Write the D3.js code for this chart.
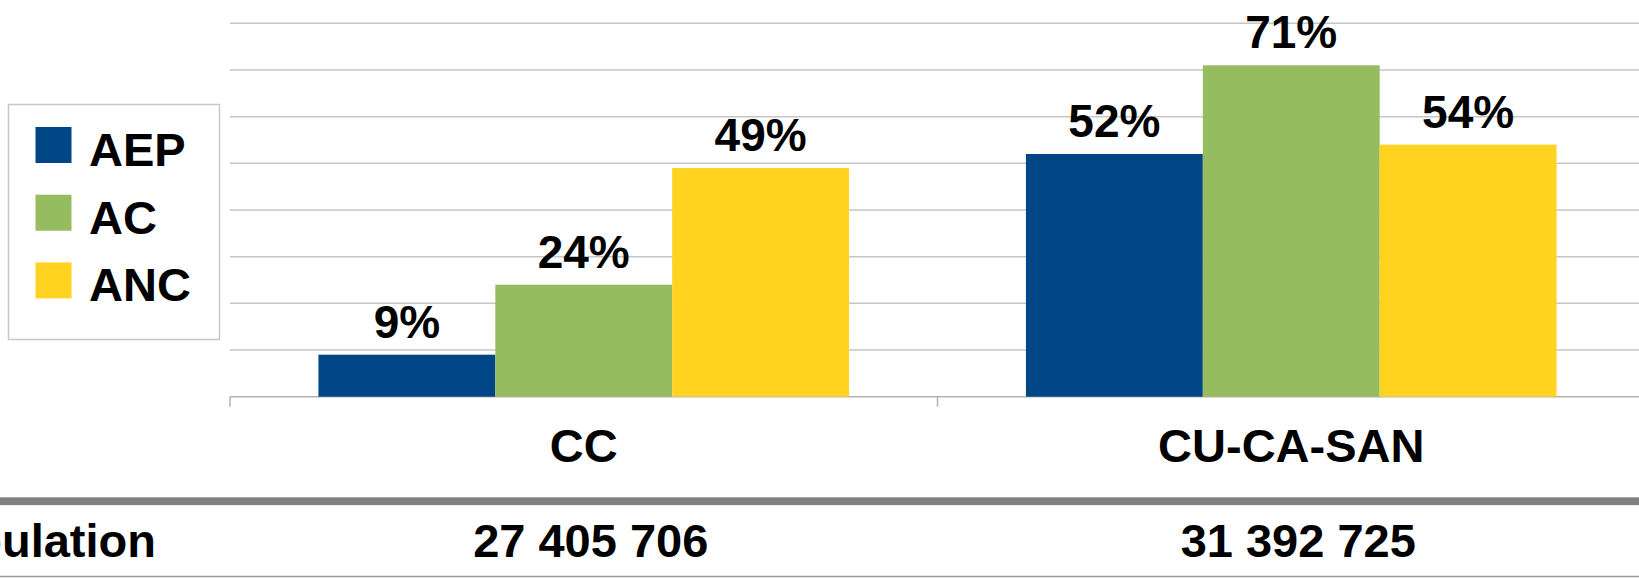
<!DOCTYPE html>
<html>
<head>
<meta charset="utf-8">
<script src="https://cdn.jsdelivr.net/npm/d3@7"></script>
<style>
  body { margin: 0; background: #fff; }
  text { font-family: "Liberation Sans", Arial, sans-serif; font-weight: bold; fill: #000; }
</style>
</head>
<body>
<script>
// data
var categories = ["CC", "CU-CA-SAN"];
var series = ["AEP", "AC", "ANC"];
var colors = ["#004586", "#95bd5f", "#ffd320"];
var aep = [9, 52];
var ac = [24, 71];
var anc = [49, 54];
var yTicks = [10, 20, 30, 40, 50, 60, 70, 80];
var popLabel = "Population";
var population = ["27 405 706", "31 392 725"];

var values = [aep, ac, anc];

var W = 1639, H = 578;
var svg = d3.select("body").append("svg")
    .attr("width", W)
    .attr("height", H);

// scales
var x0 = d3.scaleBand()
    .domain(categories)
    .range([230, 1645])
    .paddingInner(0)
    .paddingOuter(0);

var x1 = d3.scaleBand()
    .domain(series)
    .range([0, x0.bandwidth()])
    .paddingInner(0)
    .paddingOuter(0.5);

var y = d3.scaleLinear()
    .domain([0, 80])
    .range([396.7, 23.3]);

// gridlines
svg.append("g")
    .selectAll("line")
    .data(yTicks)
    .enter()
    .append("line")
    .attr("x1", 230)
    .attr("x2", W)
    .attr("y1", d => y(d))
    .attr("y2", d => y(d))
    .attr("stroke", "#c6c6c6")
    .attr("stroke-width", 1.5);

// x axis baseline + ticks
svg.append("line")
    .attr("x1", 230).attr("x2", W)
    .attr("y1", y(0)).attr("y2", y(0))
    .attr("stroke", "#b3b3b3")
    .attr("stroke-width", 1.5);

svg.append("g")
    .selectAll("line")
    .data(categories)
    .enter()
    .append("line")
    .attr("x1", d => x0(d))
    .attr("x2", d => x0(d))
    .attr("y1", y(0))
    .attr("y2", y(0) + 10)
    .attr("stroke", "#b3b3b3")
    .attr("stroke-width", 1.5);

// bars
var groups = svg.selectAll(".grp")
    .data(categories)
    .enter()
    .append("g")
    .attr("class", "grp")
    .attr("transform", d => "translate(" + x0(d) + ",0)");

groups.selectAll("rect")
    .data((d, i) => series.map((s, j) => ({ s: s, v: values[j][i], c: colors[j] })))
    .enter()
    .append("rect")
    .attr("x", d => x1(d.s))
    .attr("width", x1.bandwidth())
    .attr("y", d => y(d.v))
    .attr("height", d => y(0) - y(d.v))
    .attr("fill", d => d.c);

groups.selectAll(".lbl")
    .data((d, i) => series.map((s, j) => ({ s: s, v: values[j][i] })))
    .enter()
    .append("text")
    .attr("class", "lbl")
    .attr("x", d => x1(d.s) + x1.bandwidth() / 2)
    .attr("y", d => y(d.v) - 17)
    .attr("text-anchor", "middle")
    .style("font-size", "46px")
    .text(d => d.v + "%");

// category labels
svg.append("g")
    .selectAll("text")
    .data(categories)
    .enter()
    .append("text")
    .attr("x", d => x0(d) + x0.bandwidth() / 2)
    .attr("y", 461.5)
    .attr("text-anchor", "middle")
    .style("font-size", "47px")
    .text(d => d);

// legend
var legend = svg.append("g");
legend.append("rect")
    .attr("x", 8.5)
    .attr("y", 104.5)
    .attr("width", 211)
    .attr("height", 235)
    .attr("fill", "#fff")
    .attr("stroke", "#c8c8c8")
    .attr("stroke-width", 1.5);

var li = legend.selectAll(".li")
    .data(series)
    .enter()
    .append("g")
    .attr("class", "li")
    .attr("transform", (d, i) => "translate(0," + (145 + i * 67.7) + ")");

li.append("rect")
    .attr("x", 35.5)
    .attr("y", -18)
    .attr("width", 36)
    .attr("height", 36)
    .attr("fill", (d, i) => colors[i]);

li.append("text")
    .attr("x", 89)
    .attr("y", 21)
    .style("font-size", "47px")
    .text(d => d);

// population table
svg.append("rect")
    .attr("x", 0).attr("y", 497.3)
    .attr("width", W).attr("height", 7.8)
    .attr("fill", "#808080");

svg.append("line")
    .attr("x1", 0).attr("x2", W)
    .attr("y1", 576.5).attr("y2", 576.5)
    .attr("stroke", "#9a9a9a")
    .attr("stroke-width", 1.5);

svg.append("text")
    .attr("x", 156)
    .attr("y", 556.5)
    .attr("text-anchor", "end")
    .style("font-size", "47px")
    .text(popLabel);

svg.append("g")
    .selectAll("text")
    .data(population)
    .enter()
    .append("text")
    .attr("x", (d, i) => x0(categories[i]) + x0.bandwidth() / 2 + 7)
    .attr("y", 556.5)
    .attr("text-anchor", "middle")
    .style("font-size", "47px")
    .text(d => d);
</script>
</body>
</html>
